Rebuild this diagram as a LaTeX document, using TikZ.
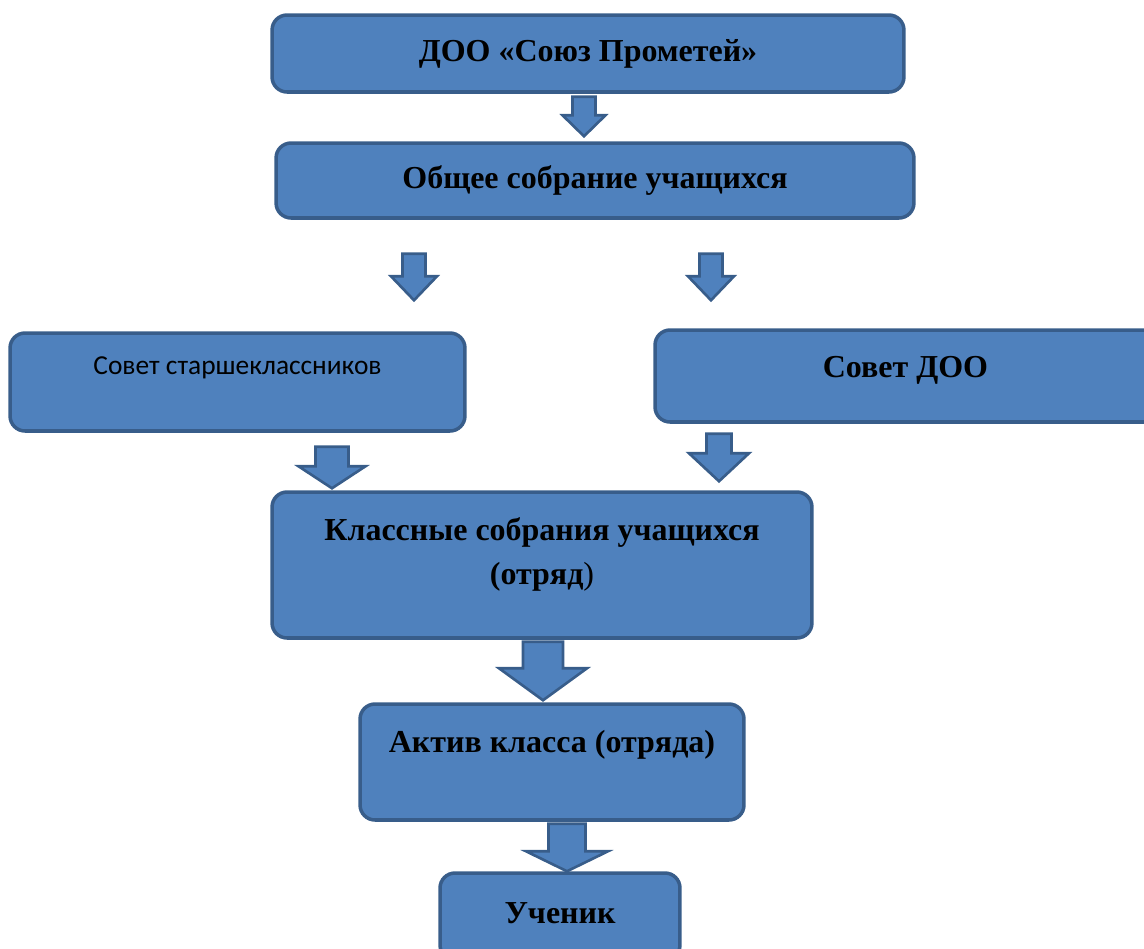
\documentclass[tikz,border=0pt]{standalone}
\usepackage{fontspec}
\setmainfont{Liberation Serif}
\newfontfamily\calibrifont{Carlito}
\usetikzlibrary{calc}
\definecolor{boxblue}{HTML}{4F81BD}
\definecolor{boxedge}{HTML}{385D8A}
\tikzset{
  box/.style={draw=boxedge, line width=2pt, fill=boxblue, rounded corners=0.3cm},
  txt/.style={font=\fontsize{18.2}{22}\selectfont\bfseries, align=center, inner sep=0pt},
  arrowfill/.style={draw=boxedge, line width=1.5pt, fill=boxblue, line join=miter}
}
% fat down arrow: top, tip, shaft half width, head half width, head length
\newcommand{\fatarrow}[5]{%
  \filldraw[arrowfill] let \p1=(#1), \p2=(#2) in
    (\x1-#3,\y1) -- (\x1+#3,\y1) -- (\x1+#3,\y2+#5) -- (\x1+#4,\y2+#5)
    -- (\x1,\y2) -- (\x1-#4,\y2+#5) -- (\x1-#3,\y2+#5) -- cycle;}

\begin{document}
\begin{tikzpicture}[x=0.02cm, y=-0.02cm]
		\useasboundingbox (0,0) rectangle (1144,948);
		\clip (0,0) rectangle (1144,948);
		
		\node[box, minimum width=12.64cm, minimum height=1.54cm] (doo) at (588,53.5) {};
		\node[box, minimum width=12.76cm, minimum height=1.5cm] (obsh) at (595,180.5) {};
		\node[box, minimum width=9.1cm, minimum height=1.96cm] (sst) at (237.5,382) {};
		\node[box, minimum width=10.1cm, minimum height=1.84cm] (sdoo) at (907.5,376) {};
		\node[box, minimum width=10.8cm, minimum height=2.92cm] (klass) at (542,565) {};
		\node[box, minimum width=7.68cm, minimum height=2.32cm] (aktiv) at (552,762) {};
		\node[box, minimum width=4.8cm, minimum height=1.74cm] (uch) at (560,916.5) {};
		
		\node[txt] (dootxt) at (doo.center) {ДОО «Союз Прометей»};
		\node[txt] (obshtxt) at (obsh.center) {Общее собрание учащихся};
		\node[inner sep=0pt, font=\calibrifont\fontsize{15.6}{19}\selectfont] (ssttxt) at ($(sst.center)+(0,-14)$) {Совет старшеклассников};
		\node[txt] (sdootxt) at ($(sdoo.center)+(-2,-6)$) {Совет ДОО};
		\node[txt] (klasstxt) at ($(klass.center)+(0,-11)$) {Классные собрания учащихся\\[3pt](отряд\textmd{)}};
		\node[txt] (aktivtxt) at ($(aktiv.center)+(0,-17)$) {Актив класса (отряда)};
		\node[txt] (uchtxt) at ($(uch.center)+(0,-3)$) {Ученик};
		
		\fatarrow{$(doo.south)+(-4,3)$}{$(obsh.north)+(-11,-5)$}{0.23cm}{0.43cm}{0.42cm}
		\fatarrow{$(obsh.south)+(-181,34)$}{$(sst.north)+(176.5,-31)$}{0.23cm}{0.46cm}{0.48cm}
		\fatarrow{$(obsh.south)+(116,34)$}{$(sdoo.north)+(-196.5,-28)$}{0.23cm}{0.46cm}{0.48cm}
		\fatarrow{$(sst.south)+(94.5,14)$}{$(klass.north)+(-210,-2)$}{0.33cm}{0.67cm}{0.44cm}
		\fatarrow{$(sdoo.south)+(-188.5,10)$}{$(klass.north)+(177,-9)$}{0.25cm}{0.6cm}{0.56cm}
		\fatarrow{$(klass.south)+(1,2)$}{$(aktiv.north)+(-9,-2)$}{0.4cm}{0.88cm}{0.64cm}
		\fatarrow{$(aktiv.south)+(15,2)$}{$(uch.north)+(7,0)$}{0.37cm}{0.82cm}{0.4cm}
		
		\end{tikzpicture}
\end{document}
